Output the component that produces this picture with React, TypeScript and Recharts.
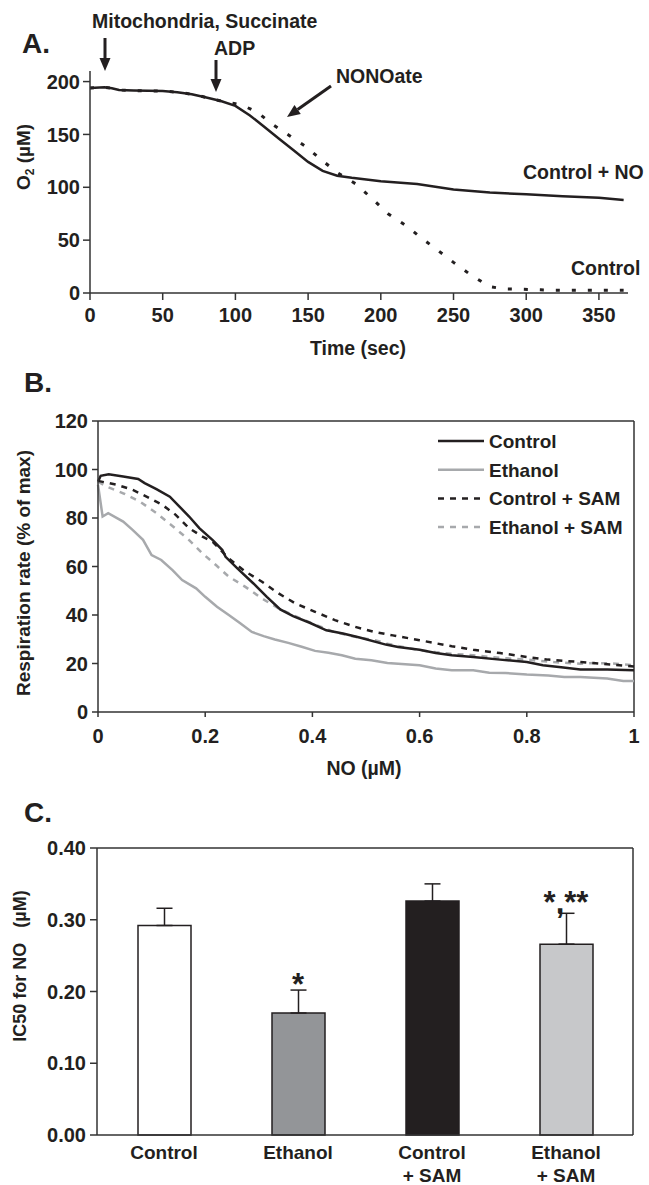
import React from 'react';
import {
  LineChart, Line, XAxis, YAxis, BarChart, Bar, Cell, ErrorBar, ReferenceLine, ReferenceDot,
} from 'recharts';

// Panel A: O2 trace (time in sec, O2 in µM)
const timeNO = [0, 10, 15, 20, 30, 50, 60, 70, 80, 90, 100, 110, 120, 130, 140, 150, 160, 170, 180, 200, 225, 250, 275, 300, 325, 350, 367];
const o2NO = [194, 194.6, 193.7, 192, 191.5, 191, 190, 188, 185, 181.6, 177, 168, 157, 146, 135, 124, 115.5, 111, 109, 105.7, 103, 98, 95, 93.4, 91.5, 90, 88];
const timeCtrl = [0, 10, 15, 20, 30, 50, 60, 70, 80, 90, 100, 105, 115, 125, 137, 148, 160, 170, 183, 195, 205, 218, 228, 240, 250, 262, 275, 285, 297, 310, 320, 340, 367];
const o2Ctrl = [194, 194.6, 193.7, 192, 191.5, 191, 190, 188, 185, 181.6, 179, 177.5, 171, 160, 149, 139, 125, 114, 103, 88, 75, 63, 52, 39.5, 29, 17, 6, 3.8, 3.5, 3, 2.5, 2.5, 2.5];
const timeTicks = [0, 50, 100, 150, 200, 250, 300, 350];
const o2Ticks = [0, 50, 100, 150, 200];

// Panel B: respiration rate vs NO
const noControl = [0, 0.005, 0.02, 0.047, 0.075, 0.087, 0.109, 0.134, 0.152, 0.17, 0.189, 0.214, 0.232, 0.238, 0.26, 0.29, 0.315, 0.34, 0.364, 0.395, 0.426, 0.457, 0.488, 0.537, 0.56, 0.6, 0.63, 0.66, 0.7, 0.75, 0.8, 0.83, 0.86, 0.9, 0.95, 1.0];
const rateControl = [95, 97.4, 98, 97.1, 96.1, 94.4, 91.9, 88.8, 84.7, 80.6, 75.8, 70.9, 66.8, 64, 59.2, 53, 47.5, 42.3, 39.5, 36.8, 33.7, 32.4, 30.7, 27.8, 26.8, 25.7, 24.3, 23.4, 22.7, 21.6, 20.6, 19.3, 18.6, 17.5, 17.5, 17.2];
const noEthanol = [0, 0.0086, 0.019, 0.047, 0.065, 0.084, 0.1, 0.118, 0.139, 0.157, 0.183, 0.2, 0.222, 0.244, 0.266, 0.287, 0.309, 0.33, 0.355, 0.38, 0.405, 0.43, 0.455, 0.48, 0.51, 0.54, 0.6, 0.63, 0.66, 0.7, 0.73, 0.76, 0.8, 0.84, 0.87, 0.9, 0.95, 0.98, 1.0];
const rateEthanol = [93.7, 80.6, 82, 78.5, 75, 71, 64.7, 62.7, 58.5, 54.4, 51, 47.5, 43.4, 40, 36.5, 33, 31.3, 29.9, 28.5, 26.9, 25.2, 24.4, 23.4, 22, 21.3, 20.2, 19.3, 17.9, 17.2, 17.2, 16.2, 16.1, 15.5, 15.1, 14.4, 14.4, 13.8, 12.8, 12.8];
const noCtrlSam = [0, 0.035, 0.065, 0.096, 0.12, 0.145, 0.17, 0.195, 0.214, 0.244, 0.275, 0.306, 0.337, 0.368, 0.405, 0.442, 0.48, 0.516, 0.55, 0.6, 0.66, 0.7, 0.75, 0.8, 0.84, 0.9, 0.95, 1.0];
const rateCtrlSam = [95.3, 93.7, 91.6, 88.2, 85.4, 81.3, 75.8, 72.3, 70.2, 63.3, 57.9, 53.7, 48.9, 44.8, 41.3, 37.9, 35.1, 33, 31.6, 29.6, 27.1, 25.7, 24.3, 22.7, 21.6, 20.6, 19.7, 18.8];
const noEthSam = [0, 0.016, 0.047, 0.078, 0.109, 0.14, 0.17, 0.195, 0.22, 0.244, 0.275, 0.306, 0.337, 0.364, 0.4, 0.44, 0.48, 0.516, 0.54, 0.6, 0.66, 0.7, 0.75, 0.8, 0.85, 0.9, 0.93, 0.96, 1.0];
const rateEthSam = [95, 93, 90.2, 86.8, 82, 76.5, 70.9, 65.4, 60.6, 55.8, 51.6, 46.8, 42.7, 39.9, 36.5, 33, 31, 29.6, 28.2, 25.4, 24, 23.4, 22.3, 21.6, 20.6, 19.9, 20.2, 20, 19.3];
const noTicks = [0, 0.2, 0.4, 0.6, 0.8, 1];
const rateTicks = [0, 20, 40, 60, 80, 100, 120];

// Panel C: IC50 bars
const groups = ['Control', 'Ethanol', 'Control\n+ SAM', 'Ethanol\n+ SAM'];
const ic50 = [0.292, 0.170, 0.326, 0.266];
const sem = [0.024, 0.032, 0.024, 0.043];
const marks = ['', '*', '', '*,**'];
const markLevel = [0, 0.21, 0, 0.325];
const barColors = ['#ffffff', '#939598', '#231f20', '#c7c8ca'];
const ic50Ticks = [0, 0.1, 0.2, 0.3, 0.4];

const FONT = '"Liberation Sans", Arial, sans-serif';
const INK = '#231f20';
const GREY = '#a7a9ac';

const zip = (xs: number[], ys: number[], kx: string, ky: string) =>
  xs.map((x, i) => ({ [kx]: x, [ky]: ys[i] }));

const tickStyle = { fontSize: 20, fontWeight: 700, fill: INK, fontFamily: FONT };
const axisStroke = { stroke: '#333', strokeWidth: 1.5 };

function BarTick(props: any) {
  const { x, y, payload } = props;
  const lines = String(payload.value).split('\n');
  return (
    <text x={x} y={y} textAnchor="middle" style={{ fontSize: 19, fontWeight: 700, fontFamily: FONT }} fill={INK}>
      {lines.map((l, i) => (
        <tspan key={i} x={x} dy={i === 0 ? 16 : 23}>{l}</tspan>
      ))}
    </text>
  );
}

function Arrow({ x1, y1, x2, y2 }: { x1: number; y1: number; x2: number; y2: number }) {
  const ang = Math.atan2(y2 - y1, x2 - x1);
  const len = 13, half = 5.5;
  const bx = x2 - len * Math.cos(ang), by = y2 - len * Math.sin(ang);
  const px = -Math.sin(ang) * half, py = Math.cos(ang) * half;
  return (
    <g>
      <line x1={x1} y1={y1} x2={bx} y2={by} stroke={INK} strokeWidth={3} />
      <polygon points={`${x2},${y2} ${bx + px},${by + py} ${bx - px},${by - py}`} fill={INK} />
    </g>
  );
}

export default function App() {
  const dataNO = zip(timeNO, o2NO, 't', 'o2');
  const dataCtrl = zip(timeCtrl, o2Ctrl, 't', 'o2');
  const bControl = zip(noControl, rateControl, 'no', 'rate');
  const bEthanol = zip(noEthanol, rateEthanol, 'no', 'rate');
  const bCtrlSam = zip(noCtrlSam, rateCtrlSam, 'no', 'rate');
  const bEthSam = zip(noEthSam, rateEthSam, 'no', 'rate');
  const barData = groups.map((g, i) => ({ group: g, ic50: ic50[i], err: [0, sem[i]] }));

  const txt = { fontFamily: FONT, fontWeight: 700, fill: INK } as const;
  const legendItems = [
    { label: 'Control', color: INK, dash: undefined },
    { label: 'Ethanol', color: GREY, dash: undefined },
    { label: 'Control + SAM', color: INK, dash: '6 6' },
    { label: 'Ethanol + SAM', color: GREY, dash: '6 6' },
  ];

  return (
    <div style={{ position: 'absolute', left: 0, top: 0, width: 649, height: 1185, background: '#fff', fontFamily: FONT }}>
      {/* A */}
      <div style={{ position: 'absolute', left: 0, top: 0 }}>
        <LineChart width={649} height={360} margin={{ top: 71, right: 21, bottom: 27, left: 0 }}>
          <XAxis type="number" dataKey="t" domain={[0, 370]} ticks={timeTicks} height={40}
            tick={tickStyle} tickSize={7} tickMargin={8} axisLine={axisStroke} tickLine={axisStroke} allowDuplicatedCategory={false} />
          <YAxis type="number" domain={[0, 210]} ticks={o2Ticks} width={90}
            tick={tickStyle} tickSize={7} tickMargin={3} axisLine={axisStroke} tickLine={axisStroke} />
          <Line data={dataCtrl} dataKey="o2" stroke={INK} strokeWidth={3} strokeDasharray="4 12" dot={false} isAnimationActive={false} />
          <Line data={dataNO} dataKey="o2" stroke={INK} strokeWidth={2.5} dot={false} isAnimationActive={false} />
        </LineChart>
      </div>

      {/* B */}
      <div style={{ position: 'absolute', left: 0, top: 360 }}>
        <LineChart width={649} height={460} margin={{ top: 61, right: 15, bottom: 68, left: 0 }}>
          <XAxis type="number" dataKey="no" domain={[0, 1]} ticks={noTicks} height={40}
            tick={tickStyle} tickSize={5} tickMargin={12} axisLine={axisStroke} tickLine={axisStroke}
            tickFormatter={(v: number) => String(v)} allowDuplicatedCategory={false} />
          <YAxis type="number" domain={[0, 120]} ticks={rateTicks} width={98}
            tick={tickStyle} tickSize={6} tickMargin={4} axisLine={axisStroke} tickLine={axisStroke} />
          <ReferenceLine y={120} stroke="#333" strokeWidth={1.5} />
          <ReferenceLine x={1} stroke="#333" strokeWidth={1.5} />
          <Line data={bEthSam} dataKey="rate" stroke={GREY} strokeWidth={2.5} strokeDasharray="6 6" dot={false} isAnimationActive={false} />
          <Line data={bCtrlSam} dataKey="rate" stroke={INK} strokeWidth={2.5} strokeDasharray="6 6" dot={false} isAnimationActive={false} />
          <Line data={bEthanol} dataKey="rate" stroke={GREY} strokeWidth={2.5} dot={false} isAnimationActive={false} />
          <Line data={bControl} dataKey="rate" stroke={INK} strokeWidth={2.5} dot={false} isAnimationActive={false} />
        </LineChart>
      </div>

      {/* C */}
      <div style={{ position: 'absolute', left: 0, top: 820 }}>
        <BarChart width={649} height={365} data={barData} margin={{ top: 28, right: 15, bottom: 0, left: 0 }}>
          <XAxis dataKey="group" height={50} tick={<BarTick />} tickLine={false} axisLine={axisStroke} interval={0} />
          <YAxis type="number" domain={[0, 0.4]} ticks={ic50Ticks} width={97}
            tick={tickStyle} tickSize={7} tickMargin={4} axisLine={axisStroke} tickLine={axisStroke}
            tickFormatter={(v: number) => v.toFixed(2)} />
          <YAxis yAxisId="right" orientation="right" type="number" domain={[0, 0.4]} width={1}
            tick={false} tickLine={false} axisLine={axisStroke} />
          <ReferenceLine y={0.4} stroke="#333" strokeWidth={1.5} />
          <Bar dataKey="ic50" barSize={53} stroke={INK} strokeWidth={1.5} isAnimationActive={false}>
            {barData.map((d, i) => <Cell key={d.group} fill={barColors[i]} />)}
            <ErrorBar dataKey="err" width={8} stroke={INK} strokeWidth={1.5} direction="y" />
          </Bar>
          {groups.map((g, i) => marks[i] ? (
            <ReferenceDot key={g} x={g} y={markLevel[i]} r={0} fill="none" stroke="none"
              label={{ value: marks[i], position: 'center', fontSize: 31, fontWeight: 700, fill: INK, fontFamily: FONT }} />
          ) : null)}
        </BarChart>
      </div>

      {/* annotations */}
      <svg width={649} height={1185} style={{ position: 'absolute', left: 0, top: 0, pointerEvents: 'none' }}>
        <text x={22} y={53} style={{ ...txt, fontSize: 28 }} fill={INK}>A.</text>
        <text x={92} y={28} style={{ ...txt, fontSize: 19.5 }} fill={INK}>Mitochondria, Succinate</text>
        <Arrow x1={105} y1={38} x2={105} y2={71} />
        <text x={214} y={55} style={{ ...txt, fontSize: 19.5 }} fill={INK}>ADP</text>
        <Arrow x1={216} y1={60} x2={216} y2={92} />
        <text x={336} y={83} style={{ ...txt, fontSize: 19.5 }} fill={INK}>NONOate</text>
        <Arrow x1={331} y1={86} x2={287} y2={117} />
        <text x={523} y={179} style={{ ...txt, fontSize: 19.5 }} fill={INK}>Control + NO</text>
        <text x={571} y={275} style={{ ...txt, fontSize: 19.5 }} fill={INK}>Control</text>
        <text x={358} y={355} textAnchor="middle" style={{ ...txt, fontSize: 19.5 }} fill={INK}>Time (sec)</text>
        <text transform="translate(30,157) rotate(-90)" textAnchor="middle" style={{ ...txt, fontSize: 19 }} fill={INK}>
          O<tspan fontSize={12} dy={4}>2</tspan><tspan dy={-4}> (µM)</tspan>
        </text>

        <text x={24} y={392} style={{ ...txt, fontSize: 28 }} fill={INK}>B.</text>
        <text x={364} y={775} textAnchor="middle" style={{ ...txt, fontSize: 19.5 }} fill={INK}>NO (µM)</text>
        <text transform="translate(30,573) rotate(-90)" textAnchor="middle" style={{ ...txt, fontSize: 19 }} fill={INK}>Respiration rate (% of max)</text>
        {legendItems.map((item, i) => (
          <g key={item.label}>
            <line x1={438} x2={484} y1={441 + i * 28.7} y2={441 + i * 28.7} stroke={item.color} strokeWidth={2.5} strokeDasharray={item.dash} />
            <text x={489} y={448 + i * 28.7} style={{ ...txt, fontSize: 19 }} fill={INK}>{item.label}</text>
          </g>
        ))}

        <text x={24} y={822} style={{ ...txt, fontSize: 28 }} fill={INK}>C.</text>
        <text transform="translate(26,966) rotate(-90)" textAnchor="middle" style={{ ...txt, fontSize: 18, whiteSpace: 'pre' }} fill={INK}>IC50 for NO   (µM)</text>
      </svg>
    </div>
  );
}
